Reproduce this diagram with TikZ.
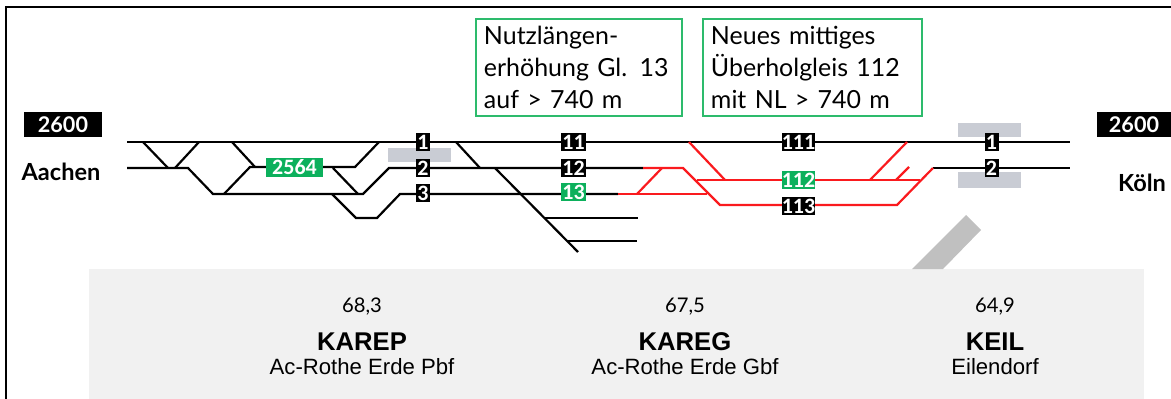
\documentclass[tikz,border=0pt]{standalone}
\usepackage{fontspec}
\setmainfont{Lato}
\newfontfamily\stationfont{Liberation Sans}
\newfontfamily\gleisfont{Carlito}
\definecolor{dbgreen}{HTML}{0CB05C}
\definecolor{notegreen}{HTML}{2DBB6C}
\definecolor{dbred}{HTML}{FA1A1E}
\definecolor{bridgegray}{HTML}{C9CCD4}
\definecolor{bandgray}{HTML}{C0C0C0}
\definecolor{panelgray}{HTML}{F1F1F1}
\tikzset{
    track/.style={line width=1.25pt},
    newtrack/.style={line width=1.25pt,draw=dbred},
    gleis/.style={fill=black,text=white,font=\gleisfont\bfseries\fontsize{12.5}{12.5}\selectfont,inner sep=0pt,minimum height=.38cm,minimum width=.28cm},
    gleisneu/.style={gleis,fill=dbgreen},
    strecke/.style={fill=black,text=white,font=\bfseries\fontsize{12.3}{12.3}\selectfont,inner sep=0pt,minimum height=.5cm},
    ort/.style={font=\bfseries\fontsize{13.4}{13.4}\selectfont,inner sep=0pt},
    notiz/.style={draw=notegreen,line width=1.1pt,anchor=north west,align=left,inner xsep=.16cm,inner ysep=0pt,minimum height=1.94cm,font=\fontsize{14.2}{18}\selectfont},
    km/.style={font=\fontsize{11.5}{11.5}\selectfont,inner sep=0pt},
    kuerzel/.style={font=\stationfont\bfseries\fontsize{14.6}{14.6}\selectfont,inner sep=0pt},
    bahnhof/.style={font=\stationfont\fontsize{12.6}{12.6}\selectfont,inner sep=0pt}
}

\begin{document}
\begin{tikzpicture}[x=.02cm,y=-.02cm]
    \useasboundingbox (0,0) rectangle (1171,399);

    % frame
    \draw[line width=1.1pt] (6,399) -- (6,7) -- (1171,7);

    % background
    \fill[panelgray] (89,269) rectangle (1144,399);
    \fill[bandgray] (966,215) -- (981,230) -- (943,269) -- (912,269);
    \fill[bridgegray] (388,148) rectangle (451,162);
    \fill[bridgegray] (958,123) rectangle (1021,137);
    \fill[bridgegray] (958,172) rectangle (1021,188);

    % existing tracks
    \draw[track] (127,142) -- (1070,142);
    \draw[track] (127,168) -- (188,168) -- (213,194) -- (363,194) -- (389,168) -- (643,168);
    \draw[track] (143,142) -- (168,168);
    \draw[track] (175,168) -- (199,142);
    \draw[track] (232,142) -- (255,167);
    \draw[track] (224,194) -- (250,167) -- (355,167) -- (379,142);
    \draw[track] (333,168) -- (358,194);
    \draw[track] (332,194) -- (356,218) -- (377,218) -- (400,194) -- (618,194);
    \draw[track] (456,142) -- (480,168);
    \draw[track] (495,168) -- (578,252);
    \draw[track] (545,218) -- (638,218);
    \draw[track] (568,241) -- (637,241);
    \draw[track] (933,168) -- (1070,168);

    % new tracks
    \draw[newtrack] (643,168) -- (683,168) -- (720,205) -- (897,205) -- (933,168);
    \draw[newtrack] (618,194) -- (707,194);
    \draw[newtrack] (637,194) -- (662,168);
    \draw[newtrack] (689,142) -- (725,180);
    \draw[newtrack] (697,180) -- (920,180);
    \draw[newtrack] (870,180) -- (907,142);
    \draw[newtrack] (896,180) -- (909,167);

    % track numbers
    \node[gleis] (g1) at (423,142) {1};
    \node[gleis] (g2) at (423,168) {2};
    \node[gleis] (g3) at (423,193) {3};
    \node[gleis,minimum width=.5cm] (g11) at (573.5,142) {11};
    \node[gleis,minimum width=.5cm] (g12) at (573.5,168) {12};
    \node[gleisneu,minimum width=.5cm] (g13) at (573.5,192) {13};
    \node[gleis,minimum width=.62cm] (g111) at (798.5,142) {111};
    \node[gleisneu,minimum width=.62cm,minimum height=.36cm] (g112) at (798.5,180) {112};
    \node[gleis,minimum width=.62cm,minimum height=.36cm] (g113) at (798.5,206) {113};
    \node[gleis] (e1) at (991.5,142) {1};
    \node[gleis] (e2) at (991.5,168) {2};
    \node[gleisneu,minimum width=1.14cm] (g2564) at (294.5,167.5) {2564};

    % line and places
    \node[strecke,minimum width=1.56cm] (streckeL) at (63,124.5) {2600};
    \node[strecke,minimum width=1.48cm] (streckeR) at (1134,124.5) {2600};
    \node[ort] (aachen) at (61,172) {Aachen};
    \node[ort] (koeln) at (1142,183) {Köln};

    % notes
    \node[notiz,text width=3.8cm] (notiz13) at (475,18) {Nutzlängen-\\erhöhung Gl. 13\\auf > 740 m};
    \node[notiz,text width=4.06cm] (notiz112) at (702,18) {Neues mittiges\\Überholgleis 112\\mit NL > 740 m};

    % stations
    \node[km] (km1) at (362,307) {68,3};
    \node[kuerzel] (karep) at (362,342) {KAREP};
    \node[bahnhof] (pbf) at (362,367) {Ac-Rothe Erde Pbf};
    \node[km] (km2) at (685,307) {67,5};
    \node[kuerzel] (kareg) at (685,342) {KAREG};
    \node[bahnhof] (gbf) at (685,367) {Ac-Rothe Erde Gbf};
    \node[km] (km3) at (995,307) {64,9};
    \node[kuerzel] (keil) at (995,342) {KEIL};
    \node[bahnhof] (eil) at (995,367) {Eilendorf};

\end{tikzpicture}
\end{document}
